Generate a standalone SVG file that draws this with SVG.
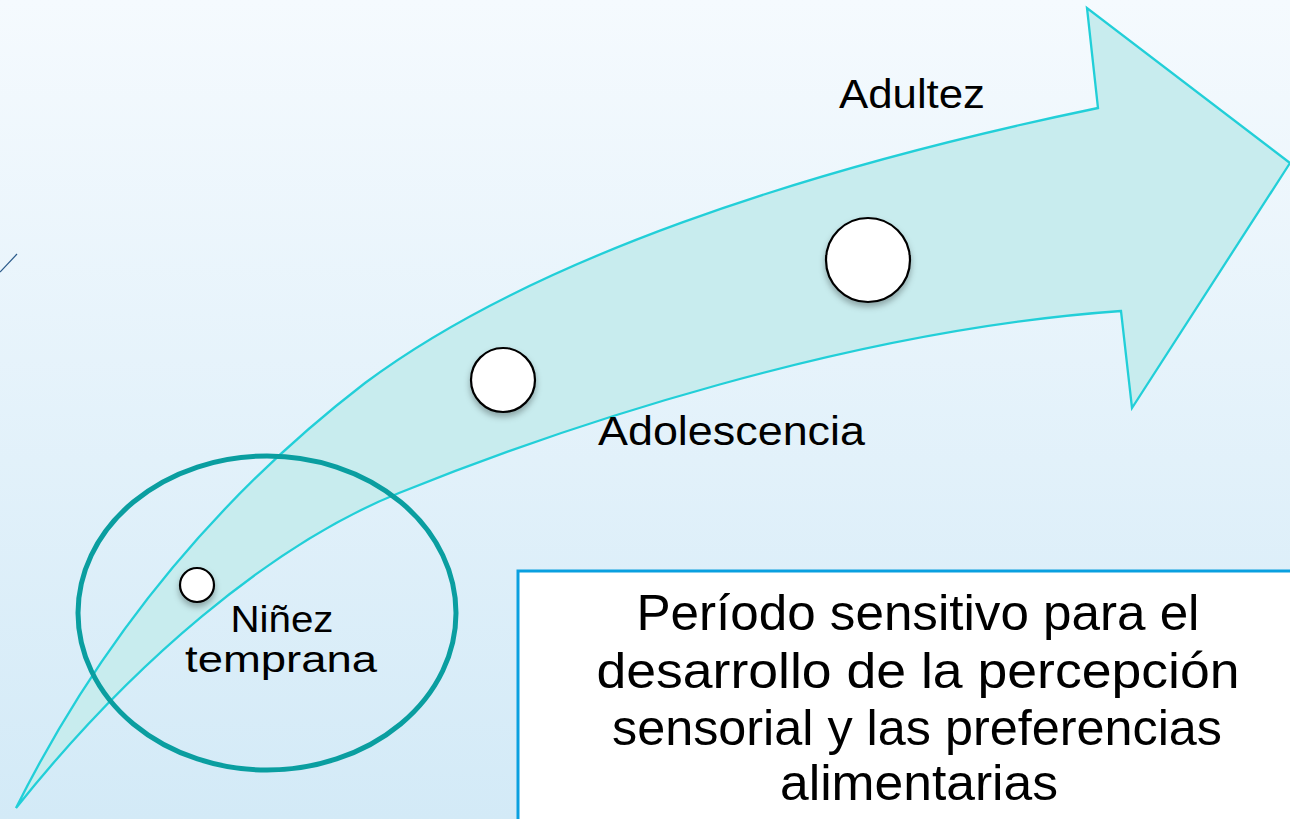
<svg xmlns="http://www.w3.org/2000/svg" width="1290" height="819" viewBox="0 0 1290 819">
<defs>
<linearGradient id="bg" x1="0" y1="0" x2="0" y2="1">
<stop offset="0" stop-color="#f5fafe"/>
<stop offset="1" stop-color="#d3eaf7"/>
</linearGradient>
<filter id="sh" x="-50%" y="-50%" width="200%" height="200%">
<feDropShadow dx="0" dy="4" stdDeviation="3" flood-color="#000" flood-opacity="0.3"/>
</filter>
<style>
.lbl{font-family:"Liberation Sans",Arial,sans-serif;fill:#000;}
.dot{fill:#fff;stroke:#000;stroke-width:2.2;filter:url(#sh);}
</style>
</defs>
<rect width="1290" height="819" fill="url(#bg)"/>
<line x1="0" y1="272" x2="17" y2="254" stroke="#2a5a8a" stroke-width="1.2"/>
<g id="arrow">
<path d="M16,808 C90,660 200,510 365,383 C530,260 800,170 1098,108 L1087,8 L1290,163 L1132,408 L1121,311 C850,330 560,428 399,493 C270,545 130,665 16,808 Z" fill="#c8ecee" stroke="#22cfd8" stroke-width="2.3" stroke-linejoin="miter"/>
</g>
<g id="ellipse">
<ellipse cx="267" cy="613" rx="189" ry="157" fill="none" stroke="#0a9ea0" stroke-width="5"/>
</g>
<g id="node-ninez">
<circle class="dot" cx="197" cy="585" r="17"/>
<text class="lbl" x="282" y="632" font-size="37" text-anchor="middle" textLength="103" lengthAdjust="spacingAndGlyphs">Niñez</text>
<text class="lbl" x="281" y="672" font-size="37" text-anchor="middle" textLength="192" lengthAdjust="spacingAndGlyphs">temprana</text>
</g>
<g id="node-adolescencia">
<circle class="dot" cx="503" cy="380" r="32"/>
<text class="lbl" x="598" y="445" font-size="40" textLength="267" lengthAdjust="spacingAndGlyphs">Adolescencia</text>
</g>
<g id="node-adultez">
<circle class="dot" cx="868" cy="260" r="42"/>
<text class="lbl" x="839" y="108" font-size="40" textLength="146" lengthAdjust="spacingAndGlyphs">Adultez</text>
</g>
<g id="box">
<rect x="518" y="571" width="790" height="270" fill="#fff" stroke="#0aa0e0" stroke-width="3"/>
<text class="lbl" x="918" y="630" font-size="50" text-anchor="middle" textLength="563" lengthAdjust="spacingAndGlyphs">Período sensitivo para el</text>
<text class="lbl" x="918" y="688" font-size="50" text-anchor="middle" textLength="643" lengthAdjust="spacingAndGlyphs">desarrollo de la percepción</text>
<text class="lbl" x="917" y="745" font-size="50" text-anchor="middle" textLength="610" lengthAdjust="spacingAndGlyphs">sensorial y las preferencias</text>
<text class="lbl" x="919" y="800" font-size="50" text-anchor="middle" textLength="278" lengthAdjust="spacingAndGlyphs">alimentarias</text>
</g>
</svg>
